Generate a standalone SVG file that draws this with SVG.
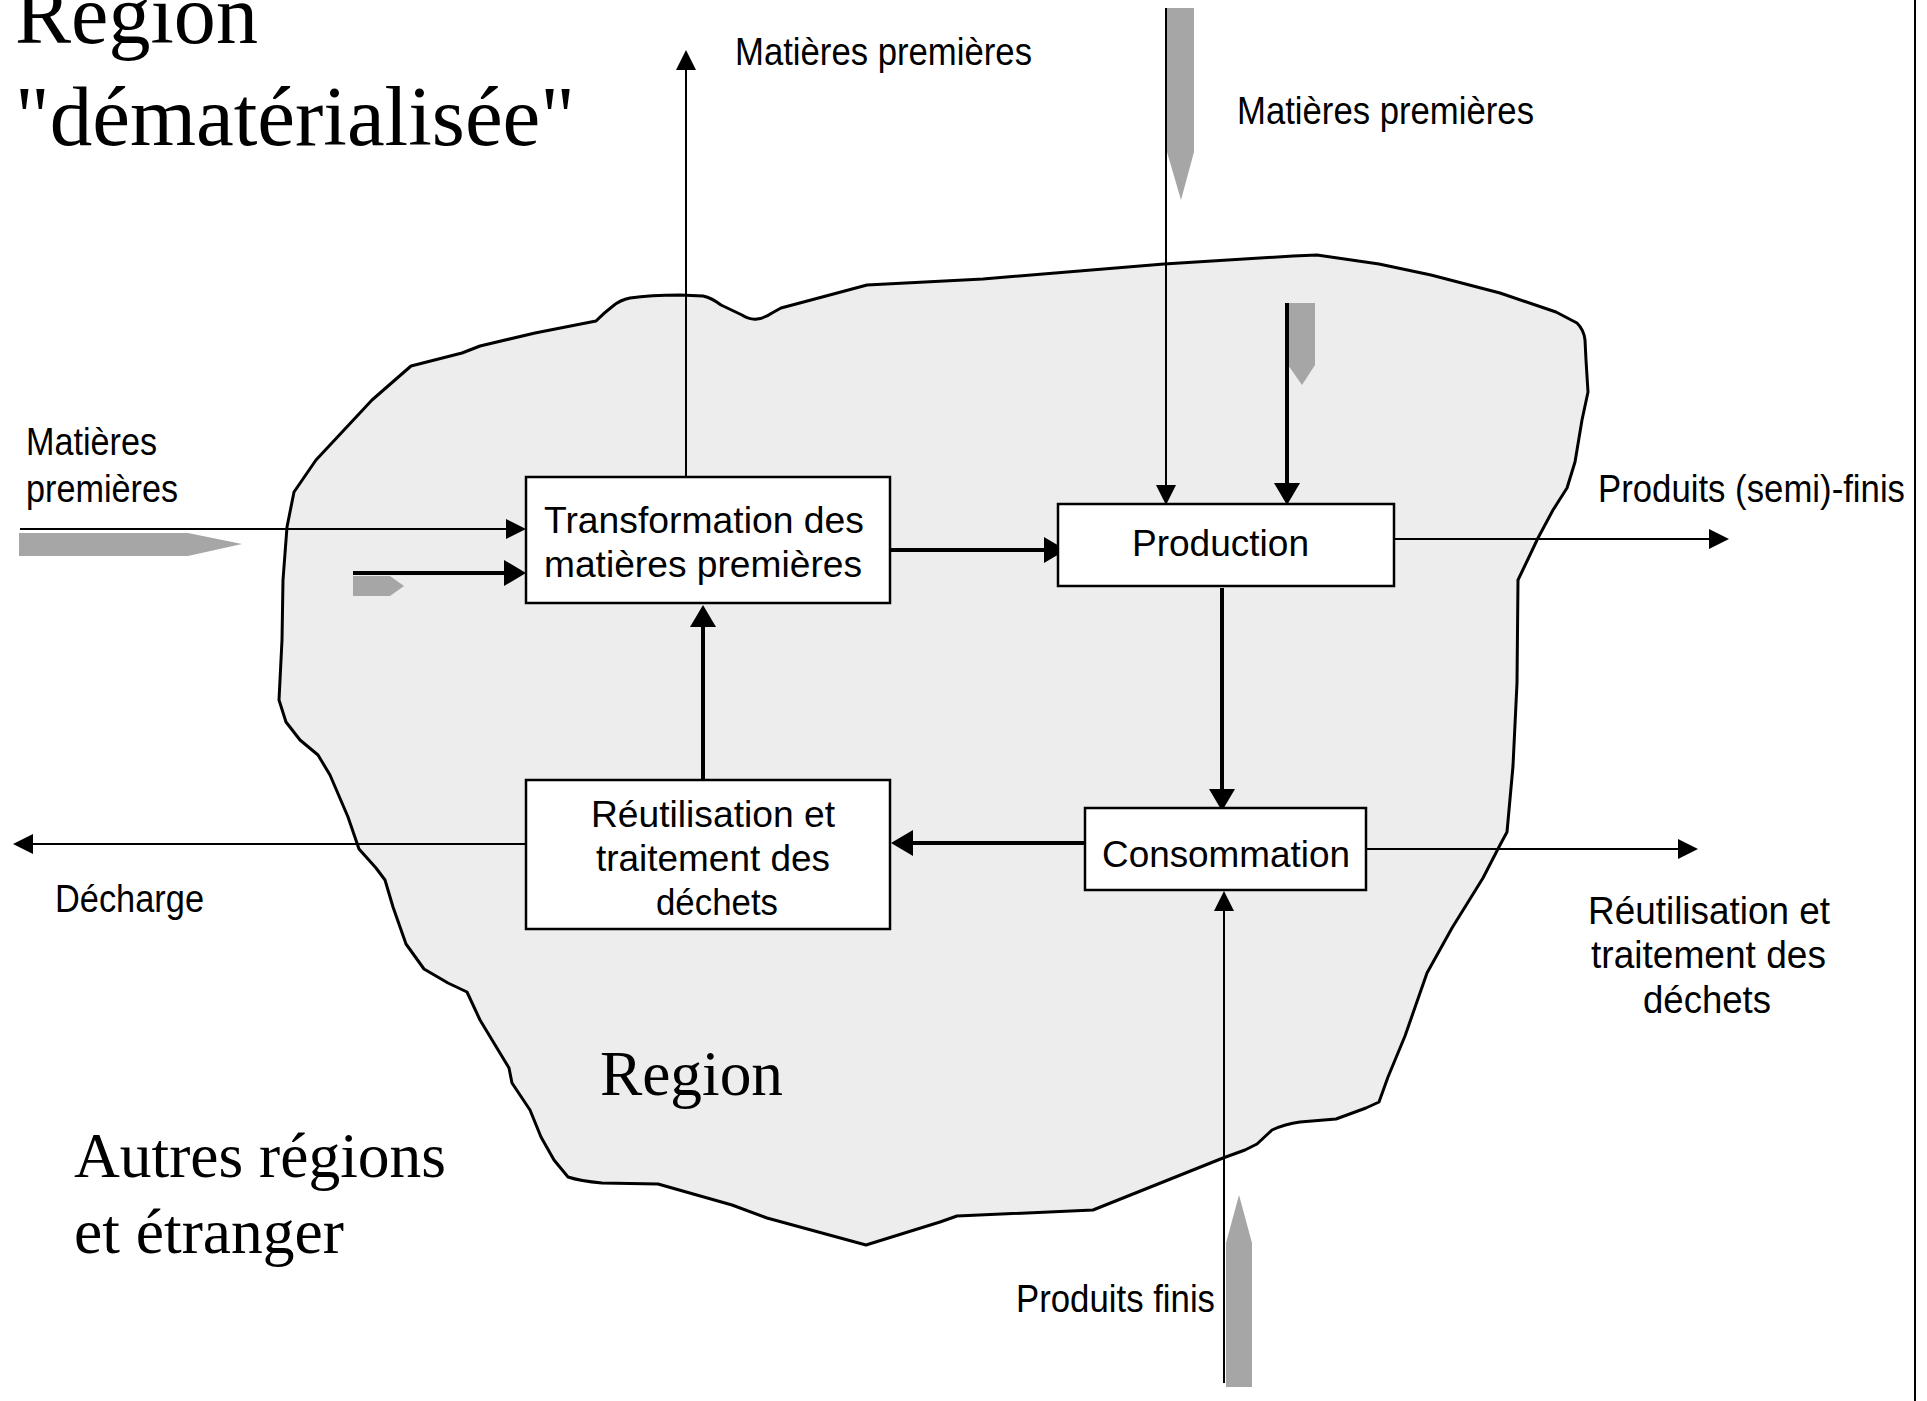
<svg xmlns="http://www.w3.org/2000/svg" width="1927" height="1401" viewBox="0 0 1927 1401">
<style>
.serif{font-family:"Liberation Serif","Times New Roman",serif;fill:#000}
.lbl{font-family:"Liberation Sans",Arial,sans-serif;font-size:38px;fill:#000}
.box{fill:#fff;stroke:#000;stroke-width:2.5}
.boxt{font-family:"Liberation Sans",Arial,sans-serif;font-size:37px;fill:#000}
.thin{stroke:#000;stroke-width:2;fill:none}
.thick{stroke:#000;stroke-width:4;fill:none}
.gray{fill:#a6a6a6}
</style>
<defs>
<marker id="ah" markerUnits="userSpaceOnUse" markerWidth="20" markerHeight="20" refX="12" refY="10" orient="auto" viewBox="0 0 20 20">
<path d="M0,0 L20,10 L0,20 z" fill="#000"/>
</marker>
<marker id="ahb" markerUnits="userSpaceOnUse" markerWidth="22" markerHeight="26" refX="14" refY="13" orient="auto" viewBox="0 0 22 26">
<path d="M0,0 L22,13 L0,26 z" fill="#000"/>
</marker>
</defs>
<rect x="0" y="0" width="1927" height="1401" fill="#fff"/>

<g id="region-blob">
<path fill="#ededed" stroke="#000" stroke-width="3" stroke-linejoin="round" d="M282,640 L283,580 L287,527 L294,492 L316,460 L372,400 L411,366 L462,353 L480,346 L535,333 L596,321 Q605,312 613,306 Q620,300 630,298 Q650,295 680,295 L703,296 Q712,298 721,305 L742,315 Q750,320 757,319 Q765,318 772,313 L781,308 L811,300 L867,285 L983,279 L1164,264 L1293,256 L1317,255 L1379,264 L1431,275 L1500,293 L1556,312 L1577,323 Q1584,330 1585,340 L1586,360 L1588,392 L1582,420 L1575,462 L1567,488 L1553,510 L1538,538 L1518,580 L1517,683 L1513,766 L1507,832 L1500,845 L1483,878 L1452,928 L1427,973 L1405,1036 L1388,1077 L1379,1102 L1366,1108 L1336,1119 L1300,1122 Q1285,1124 1272,1130 L1257,1144 L1245,1150 L1223,1158 L1093,1210 L957,1216 L940,1222 L866,1245 L767,1218 L732,1205 L658,1184 L602,1183 Q580,1181 568,1177 L554,1160 L541,1137 L530,1110 L512,1083 L509,1068 L480,1020 L467,992 L448,983 L424,969 L406,944 L393,907 L385,880 L376,868 L359,849 L348,817 L330,775 L318,755 L300,740 L286,722 L279,700 Z"/>
</g>

<g id="border-line">
<line x1="1915" y1="0" x2="1915" y2="1401" stroke="#000" stroke-width="2"/>
</g>

<g id="gray-arrows">
<polygon class="gray" points="1167,8 1194,8 1194,152 1181,200 1167,152"/>
<polygon class="gray" points="1288,303 1315,303 1315,365 1302,385 1288,365"/>
<polygon class="gray" points="19,533 188,533 242,544 188,556 19,556"/>
<polygon class="gray" points="353,576 390,576 404,586 390,596 353,596"/>
<polygon class="gray" points="1226,1387 1226,1243 1239,1195 1252,1243 1252,1387"/>
</g>

<g id="connectors">
<line class="thin" x1="686" y1="477" x2="686" y2="58" marker-end="url(#ah)"/>
<line class="thin" x1="1166" y1="8" x2="1166" y2="497" marker-end="url(#ah)"/>
<line class="thick" x1="1287" y1="303" x2="1287" y2="497" marker-end="url(#ahb)"/>
<line class="thin" x1="20" y1="529" x2="518" y2="529" marker-end="url(#ah)"/>
<line class="thick" x1="353" y1="573" x2="518" y2="573" marker-end="url(#ahb)"/>
<line class="thick" x1="890" y1="550" x2="1058" y2="550" marker-end="url(#ahb)"/>
<line class="thin" x1="1394" y1="539" x2="1721" y2="539" marker-end="url(#ah)"/>
<line class="thick" x1="1222" y1="588" x2="1222" y2="803" marker-end="url(#ahb)"/>
<line class="thick" x1="1095" y1="843" x2="899" y2="843" marker-end="url(#ahb)"/>
<line class="thin" x1="1366" y1="849" x2="1690" y2="849" marker-end="url(#ah)"/>
<line class="thick" x1="703" y1="780" x2="703" y2="613" marker-end="url(#ahb)"/>
<line class="thin" x1="526" y1="844" x2="21" y2="844" marker-end="url(#ah)"/>
<line class="thin" x1="1224" y1="1383" x2="1224" y2="899" marker-end="url(#ah)"/>
</g>

<g id="node-transformation">
<rect class="box" x="526" y="477" width="364" height="126"/>
<text class="boxt" x="544" y="533" textLength="320" lengthAdjust="spacingAndGlyphs">Transformation des</text>
<text class="boxt" x="544" y="577" textLength="318" lengthAdjust="spacingAndGlyphs">matières premières</text>
</g>
<g id="node-production">
<rect class="box" x="1058" y="504" width="336" height="82"/>
<text class="boxt" x="1132" y="556" textLength="177" lengthAdjust="spacingAndGlyphs">Production</text>
</g>
<g id="node-reutilisation">
<rect class="box" x="526" y="780" width="364" height="149"/>
<text class="boxt" x="591" y="827" textLength="244" lengthAdjust="spacingAndGlyphs">Réutilisation et</text>
<text class="boxt" x="596" y="871" textLength="234" lengthAdjust="spacingAndGlyphs">traitement des</text>
<text class="boxt" x="656" y="915" textLength="122" lengthAdjust="spacingAndGlyphs">déchets</text>
</g>
<g id="node-consommation">
<rect class="box" x="1085" y="808" width="281" height="82"/>
<text class="boxt" x="1102" y="867" textLength="248" lengthAdjust="spacingAndGlyphs">Consommation</text>
</g>

<g id="labels">
<text class="serif" x="15" y="43" font-size="85" textLength="243" lengthAdjust="spacingAndGlyphs">Region</text>
<text class="serif" x="15" y="145" font-size="85" textLength="560" lengthAdjust="spacingAndGlyphs">"dématérialisée"</text>
<text class="serif" x="74" y="1177" font-size="64" textLength="372" lengthAdjust="spacingAndGlyphs">Autres régions</text>
<text class="serif" x="74" y="1253" font-size="64" textLength="270" lengthAdjust="spacingAndGlyphs">et étranger</text>
<text class="serif" x="600" y="1095" font-size="64" textLength="183" lengthAdjust="spacingAndGlyphs">Region</text>
<text class="lbl" x="735" y="65" textLength="297" lengthAdjust="spacingAndGlyphs">Matières premières</text>
<text class="lbl" x="1237" y="124" textLength="297" lengthAdjust="spacingAndGlyphs">Matières premières</text>
<text class="lbl" x="26" y="455" textLength="131" lengthAdjust="spacingAndGlyphs">Matières</text>
<text class="lbl" x="26" y="502" textLength="152" lengthAdjust="spacingAndGlyphs">premières</text>
<text class="lbl" x="1598" y="502" textLength="307" lengthAdjust="spacingAndGlyphs">Produits (semi)-finis</text>
<text class="lbl" x="55" y="912" textLength="149" lengthAdjust="spacingAndGlyphs">Décharge</text>
<text class="lbl" x="1588" y="924" textLength="242" lengthAdjust="spacingAndGlyphs">Réutilisation et</text>
<text class="lbl" x="1591" y="968" textLength="235" lengthAdjust="spacingAndGlyphs">traitement des</text>
<text class="lbl" x="1643" y="1013" textLength="128" lengthAdjust="spacingAndGlyphs">déchets</text>
<text class="lbl" x="1016" y="1312" textLength="199" lengthAdjust="spacingAndGlyphs">Produits finis</text>
</g>
</svg>
